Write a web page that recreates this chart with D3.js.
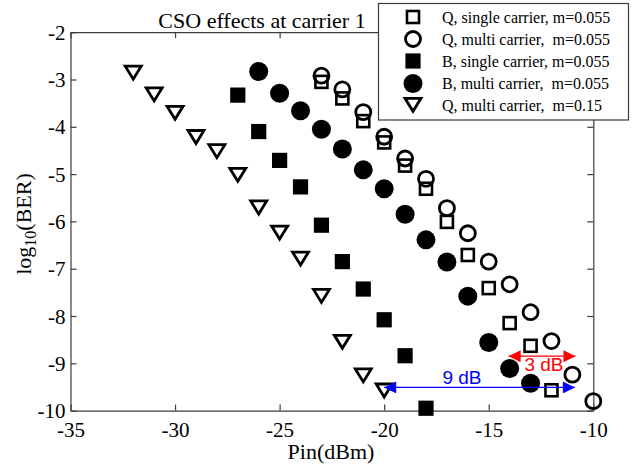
<!DOCTYPE html>
<html>
<head>
<meta charset="utf-8">
<script src="https://cdn.jsdelivr.net/npm/d3@7"></script>
<style>
  html, body { margin: 0; padding: 0; background: #fff; }
  svg { display: block; }
  text { font-family: "Liberation Serif", "Times New Roman", serif; fill: #000; }
</style>
</head>
<body>
<svg id="chart" width="633" height="468"></svg>
<script>
// Received power (dBm) and log10(BER) for each measured configuration
const pinQSingle055 = [-23, -22, -21, -20, -19, -18, -17, -16, -15, -14, -13, -12];
const berQSingle055 = [-3.05, -3.40, -3.88, -4.33, -4.82, -5.31, -6.01, -6.71, -7.41, -8.15, -8.63, -9.57];

const pinQMulti055 = [-23, -22, -21, -20, -19, -18, -17, -16, -15, -14, -13, -12, -11, -10];
const berQMulti055 = [-2.92, -3.21, -3.69, -4.21, -4.67, -5.10, -5.72, -6.25, -6.85, -7.33, -7.92, -8.53, -9.24, -9.80];

const pinBSingle055 = [-27, -26, -25, -24, -23, -22, -21, -20, -19, -18];
const berBSingle055 = [-3.33, -4.10, -4.71, -5.27, -6.08, -6.85, -7.43, -8.08, -8.84, -9.95];

const pinBMulti055 = [-26, -25, -24, -23, -22, -21, -20, -19, -18, -17, -16, -15, -14, -13];
const berBMulti055 = [-2.83, -3.29, -3.66, -4.05, -4.47, -4.91, -5.31, -5.85, -6.39, -6.86, -7.58, -8.56, -9.11, -9.42];

const pinQMulti15 = [-32, -31, -30, -29, -28, -27, -26, -25, -24, -23, -22, -21, -20];
const berQMulti15 = [-2.87, -3.33, -3.72, -4.23, -4.53, -5.03, -5.72, -6.25, -6.80, -7.59, -8.56, -9.27, -9.59];

const legendLabels = [
  "Q, single carrier, m=0.055",
  "Q, multi carrier,  m=0.055",
  "B, single carrier, m=0.055",
  "B, multi carrier,  m=0.055",
  "Q, multi carrier,  m=0.15"
];

const xTicks = [-35, -30, -25, -20, -15, -10];
const yTicks = [-10, -9, -8, -7, -6, -5, -4, -3, -2];

// Power-penalty annotations: [from dBm, to dBm, at log10(BER)]
const penalty9 = [-20, -10.88, -9.51];
const penalty3 = [-14.05, -10.85, -8.85];

const svg = d3.select("#chart");
const x = d3.scaleLinear().domain([-35, -10]).range([70.5, 593.3]);
const y = d3.scaleLinear().domain([-10, -2]).range([410.6, 32.2]);
const axisColor = "#3c3c3c";
const plainNumber = d => String(d);   // ASCII hyphen for negative ticks

// Marker drawers: each appends a shape centred on (0,0)
const markers = {
  openSquare: g => g.append("rect").attr("x", -6).attr("y", -6).attr("width", 12).attr("height", 12)
      .attr("fill", "none").attr("stroke", "#000").attr("stroke-width", 2.6),
  openCircle: g => g.append("circle").attr("r", 7.5)
      .attr("fill", "none").attr("stroke", "#000").attr("stroke-width", 2.8),
  filledSquare: g => g.append("rect").attr("x", -7.6).attr("y", -7.6).attr("width", 15.2).attr("height", 15.2)
      .attr("fill", "#000"),
  filledCircle: g => g.append("circle").attr("r", 9.5).attr("fill", "#000"),
  openTriangleDown: g => g.append("path").attr("d", "M-8,-7.2L8,-7.2L0,5.8Z")
      .attr("fill", "none").attr("stroke", "#000").attr("stroke-width", 2.8).attr("stroke-linejoin", "miter")
};

const series = [
  { pin: pinQSingle055, ber: berQSingle055, marker: "openSquare" },
  { pin: pinQMulti055, ber: berQMulti055, marker: "openCircle" },
  { pin: pinBSingle055, ber: berBSingle055, marker: "filledSquare" },
  { pin: pinBMulti055, ber: berBMulti055, marker: "filledCircle" },
  { pin: pinQMulti15, ber: berQMulti15, marker: "openTriangleDown" }
];

// Axes: ticks point inward, box drawn on all four sides
const axBottom = svg.append("g").attr("transform", `translate(0,${y(-10)})`)
  .call(d3.axisBottom(x).tickValues(xTicks).tickSizeInner(-6).tickSizeOuter(0).tickPadding(11).tickFormat(plainNumber));
const axTop = svg.append("g").attr("transform", `translate(0,${y(-2)})`)
  .call(d3.axisTop(x).tickValues(xTicks).tickSizeInner(-6).tickSizeOuter(0).tickFormat(""));
const axLeft = svg.append("g").attr("transform", `translate(${x(-35)},0)`)
  .call(d3.axisLeft(y).tickValues(yTicks).tickSizeInner(-6).tickSizeOuter(0).tickPadding(5).tickFormat(plainNumber));
const axRight = svg.append("g").attr("transform", `translate(${x(-10)},0)`)
  .call(d3.axisRight(y).tickValues(yTicks).tickSizeInner(-6).tickSizeOuter(0).tickFormat(""));

[axBottom, axTop, axLeft, axRight].forEach(a => {
  a.select(".domain").attr("stroke", axisColor).attr("stroke-width", 1.2);
  a.selectAll(".tick line").attr("stroke", axisColor).attr("stroke-width", 1.2);
  a.selectAll(".tick text").attr("font-family", "Liberation Serif").attr("font-size", 21).attr("fill", "#000");
});
axBottom.selectAll(".tick text").attr("dy", "0.71em");
axLeft.selectAll(".tick text").attr("dy", "0.34em");

// Data markers
series.forEach(s => {
  const g = svg.append("g");
  s.pin.forEach((p, i) => {
    const m = g.append("g").attr("transform", `translate(${x(p)},${y(s.ber[i])})`);
    markers[s.marker](m);
  });
});

// Power-penalty arrows
svg.append("defs").selectAll("marker")
  .data([["arrBlue", "#0000ff"], ["arrRed", "#ff0000"]])
  .join("marker")
  .attr("id", d => d[0])
  .attr("viewBox", "0 -5 10 10")
  .attr("refX", 10).attr("refY", 0)
  .attr("markerUnits", "userSpaceOnUse")
  .attr("markerWidth", 15).attr("markerHeight", 12)
  .attr("orient", "auto-start-reverse")
  .append("path").attr("d", "M0,-5L10,0L0,5Z").attr("fill", d => d[1]);

function penaltyArrow(spec, color, id, label, lx, ly) {
  svg.append("line")
    .attr("x1", x(spec[0])).attr("x2", x(spec[1]))
    .attr("y1", y(spec[2])).attr("y2", y(spec[2]))
    .attr("stroke", color).attr("stroke-width", 1.3)
    .attr("marker-start", `url(#${id})`).attr("marker-end", `url(#${id})`);
  svg.append("text").attr("x", lx).attr("y", ly)
    .attr("text-anchor", "middle")
    .style("font-family", "'Liberation Sans', Arial, sans-serif")
    .style("font-size", "19px").style("fill", color)
    .text(label);
}
penaltyArrow(penalty9, "#0000ff", "arrBlue", "9 dB", 462, 384);
penaltyArrow(penalty3, "#ff0000", "arrRed", "3 dB", 544, 371);

// Title and axis labels
svg.append("text").attr("x", 262).attr("y", 28).attr("text-anchor", "middle")
  .style("font-size", "22px").text("CSO effects at carrier 1");
svg.append("text").attr("x", 331).attr("y", 459).attr("text-anchor", "middle")
  .style("font-size", "22px").text("Pin(dBm)");
const ylab = svg.append("text")
  .attr("transform", "translate(31,224) rotate(-90)")
  .attr("text-anchor", "middle")
  .style("font-size", "22px");
ylab.append("tspan").text("log");
ylab.append("tspan").attr("dy", 5).style("font-size", "16px").text("10");
ylab.append("tspan").attr("dy", -5).text("(BER)");

// Legend box (opaque, sits over the top-right corner of the axes)
const lg = svg.append("g");
lg.append("rect").attr("x", 378.5).attr("y", 3.5).attr("width", 250).attr("height", 116.5)
  .attr("fill", "#fff").attr("stroke", axisColor).attr("stroke-width", 1.2);
const rowY = [17, 39, 61, 83.5, 105.5];
series.forEach((s, i) => {
  const m = lg.append("g").attr("transform", `translate(413,${rowY[i]})`);
  markers[s.marker](m);
  lg.append("text").attr("x", 442).attr("y", rowY[i] + 5.5)
    .style("font-size", "16px").style("white-space", "pre")
    .attr("xml:space", "preserve")
    .text(legendLabels[i]);
});
</script>
</body>
</html>
